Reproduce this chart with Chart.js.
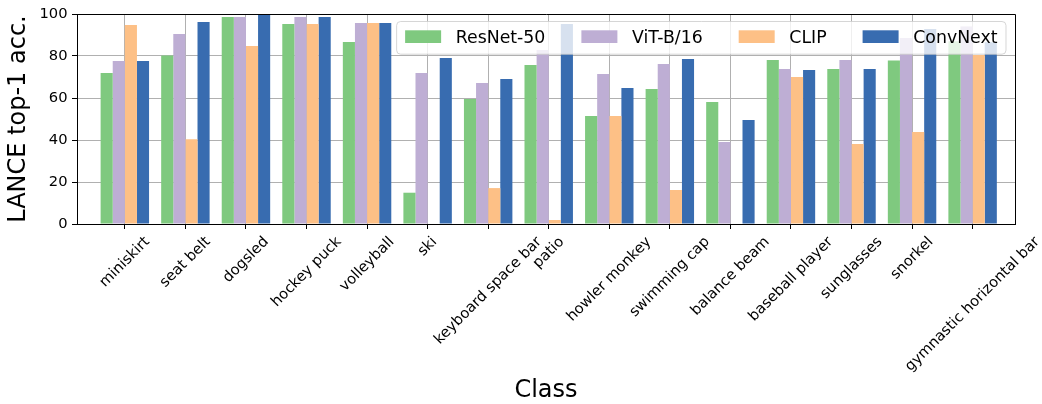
<!DOCTYPE html>
<html>
<head>
<meta charset="utf-8">
<script src="https://cdn.jsdelivr.net/npm/chart.js@4/dist/chart.umd.min.js"></script>
<style>
  html, body { margin: 0; padding: 0; background: #ffffff; }
  #wrap { width: 1042px; height: 404px; position: relative; }
</style>
</head>
<body>
<div id="wrap"><canvas id="chart"></canvas></div>
<script>
// Per-class top-1 accuracy on LANCE images, one array per model
const categories = [
  'miniskirt', 'seat belt', 'dogsled', 'hockey puck', 'volleyball', 'ski',
  'keyboard space bar', 'patio', 'howler monkey', 'swimming cap', 'balance beam',
  'baseball player', 'sunglasses', 'snorkel', 'gymnastic horizontal bar'
];
const resnet50 = [71.9, 80.2, 98.6, 95.2, 86.7, 14.9, 59.5, 75.7, 51.4, 64.3, 58.1, 78.1, 73.8, 77.8, 87.0];
const vitB16   = [77.6, 90.5, 98.6, 98.6, 95.7, 71.9, 67.1, 82.9, 71.4, 76.2, 39.0, 73.8, 78.1, 88.6, 94.0];
const clip     = [94.8, 40.3, 84.8, 95.2, 95.7, 0.0, 17.1, 1.9, 51.4, 16.2, 0.0, 70.0, 38.1, 43.8, 80.5];
const convNext = [77.6, 96.2, 100.0, 98.6, 95.7, 79.0, 69.0, 95.2, 64.8, 78.6, 49.5, 73.3, 73.8, 92.9, 86.5];
const yTicks = [0, 20, 40, 60, 80, 100];

const seriesNames  = ['ResNet-50', 'ViT-B/16', 'CLIP', 'ConvNext'];
const seriesColors = ['#7fc97f', '#beaed4', '#fdc086', '#386cb0'];

const FONT = "'DejaVu Sans', 'Liberation Sans', sans-serif";
const TICK_FONT_SIZE = 14.7;
Chart.defaults.font.family = FONT;
Chart.defaults.color = '#000000';

const toPoints = vals => vals.map((v, i) => ({ x: i, y: v }));

const datasets = [resnet50, vitB16, clip, convNext].map((vals, k) => ({
  label: seriesNames[k],
  data: toPoints(vals),
  backgroundColor: seriesColors[k],
  borderWidth: 0,
  categoryPercentage: 0.8,
  barPercentage: 1.0
}));

// Frame, 45-degree centred category labels and an inset legend box
const decorations = {
  id: 'decorations',
  afterDraw(chart) {
    const ctx = chart.ctx;
    const area = chart.chartArea;
    const xs = chart.scales.x;

    // top and right spines
    ctx.save();
    ctx.strokeStyle = '#000000';
    ctx.lineWidth = 1;
    const t = Math.floor(area.top) + 0.5;
    const r = Math.floor(area.right) + 0.5;
    ctx.beginPath();
    ctx.moveTo(Math.floor(area.left) + 0.5, t);
    ctx.lineTo(r, t);
    ctx.lineTo(r, Math.floor(area.bottom) + 0.5);
    ctx.stroke();
    ctx.restore();

    // category labels: rotated box centred under each tick
    const fs = TICK_FONT_SIZE;
    ctx.save();
    ctx.font = fs + 'px ' + FONT;
    ctx.fillStyle = '#000000';
    ctx.textAlign = 'center';
    ctx.textBaseline = 'middle';
    const boxTop = area.bottom + 9.5;
    const lineH = fs * 1.17;
    categories.forEach((name, i) => {
      const w = ctx.measureText(name).width;
      const half = (w + lineH) / (2 * Math.SQRT2);
      ctx.save();
      ctx.translate(xs.getPixelForValue(i), boxTop + half);
      ctx.rotate(-Math.PI / 4);
      ctx.fillText(name, 0, 0);
      ctx.restore();
    });
    ctx.restore();

    // legend
    const lfs = 17.33;
    ctx.save();
    ctx.font = lfs + 'px ' + FONT;
    const pad = 8.5, handleW = 36, handleH = 12.7, handleGap = 14.6, colGap = 36;
    const items = chart.data.datasets;
    const widths = items.map(d => ctx.measureText(d.label).width);
    const boxW = pad * 2 + widths.reduce((a, b) => a + b, 0) +
      items.length * (handleW + handleGap) + (items.length - 1) * colGap;
    const boxH = 32.7;
    const right = area.right - 9;
    const top = area.top + 7.5;
    const left = right - boxW;
    ctx.beginPath();
    ctx.roundRect(left, top, boxW, boxH, 4);
    ctx.fillStyle = 'rgba(255,255,255,0.8)';
    ctx.fill();
    ctx.strokeStyle = 'rgba(204,204,204,0.8)';
    ctx.lineWidth = 1;
    ctx.stroke();
    let x = left + pad;
    items.forEach((d, i) => {
      ctx.fillStyle = d.backgroundColor;
      ctx.fillRect(x, top + 8.8, handleW, handleH);
      x += handleW + handleGap;
      ctx.fillStyle = '#000000';
      ctx.textAlign = 'left';
      ctx.textBaseline = 'alphabetic';
      ctx.fillText(d.label, x, top + 21.8);
      x += widths[i] + colGap;
    });
    ctx.restore();
  }
};

new Chart(document.getElementById('chart'), {
  type: 'bar',
  data: { datasets },
  options: {
    responsive: true,
    maintainAspectRatio: false,
    animation: false,
    events: [],
    layout: { padding: { top: 14, right: 27, left: 0, bottom: 0 } },
    plugins: {
      legend: { display: false },
      tooltip: { enabled: false }
    },
    scales: {
      x: {
        type: 'linear',
        min: -0.79,
        max: 14.7,
        offset: false,
        z: 1,
        afterBuildTicks: s => { s.ticks = categories.map((_, i) => ({ value: i })); },
        afterFit: s => { s.height = 180; },
        ticks: { display: false, autoSkip: false },
        grid: { offset: false, color: '#b0b0b0', lineWidth: 1, tickColor: '#000000', tickLength: 5, tickWidth: 1 },
        border: { display: true, color: '#000000', width: 1 },
        title: {
          display: true, text: 'Class', color: '#000000',
          font: { size: 24, lineHeight: 1 },
          padding: { top: 0, bottom: 1 }
        }
      },
      y: {
        min: 0,
        max: 100,
        z: 1,
        afterBuildTicks: s => { s.ticks = yTicks.map(v => ({ value: v })); },
        afterFit: s => { s.width = 77; },
        ticks: { font: { size: TICK_FONT_SIZE }, color: '#000000', padding: 4.5 },
        grid: { color: '#b0b0b0', lineWidth: 1, tickColor: '#000000', tickLength: 5, tickWidth: 1 },
        border: { display: true, color: '#000000', width: 1 },
        title: {
          display: true, text: 'LANCE top-1 acc.', color: '#000000',
          font: { size: 24, lineHeight: 1 },
          padding: { top: 7, bottom: 0 }
        }
      }
    }
  },
  plugins: [decorations]
});
</script>
</body>
</html>
